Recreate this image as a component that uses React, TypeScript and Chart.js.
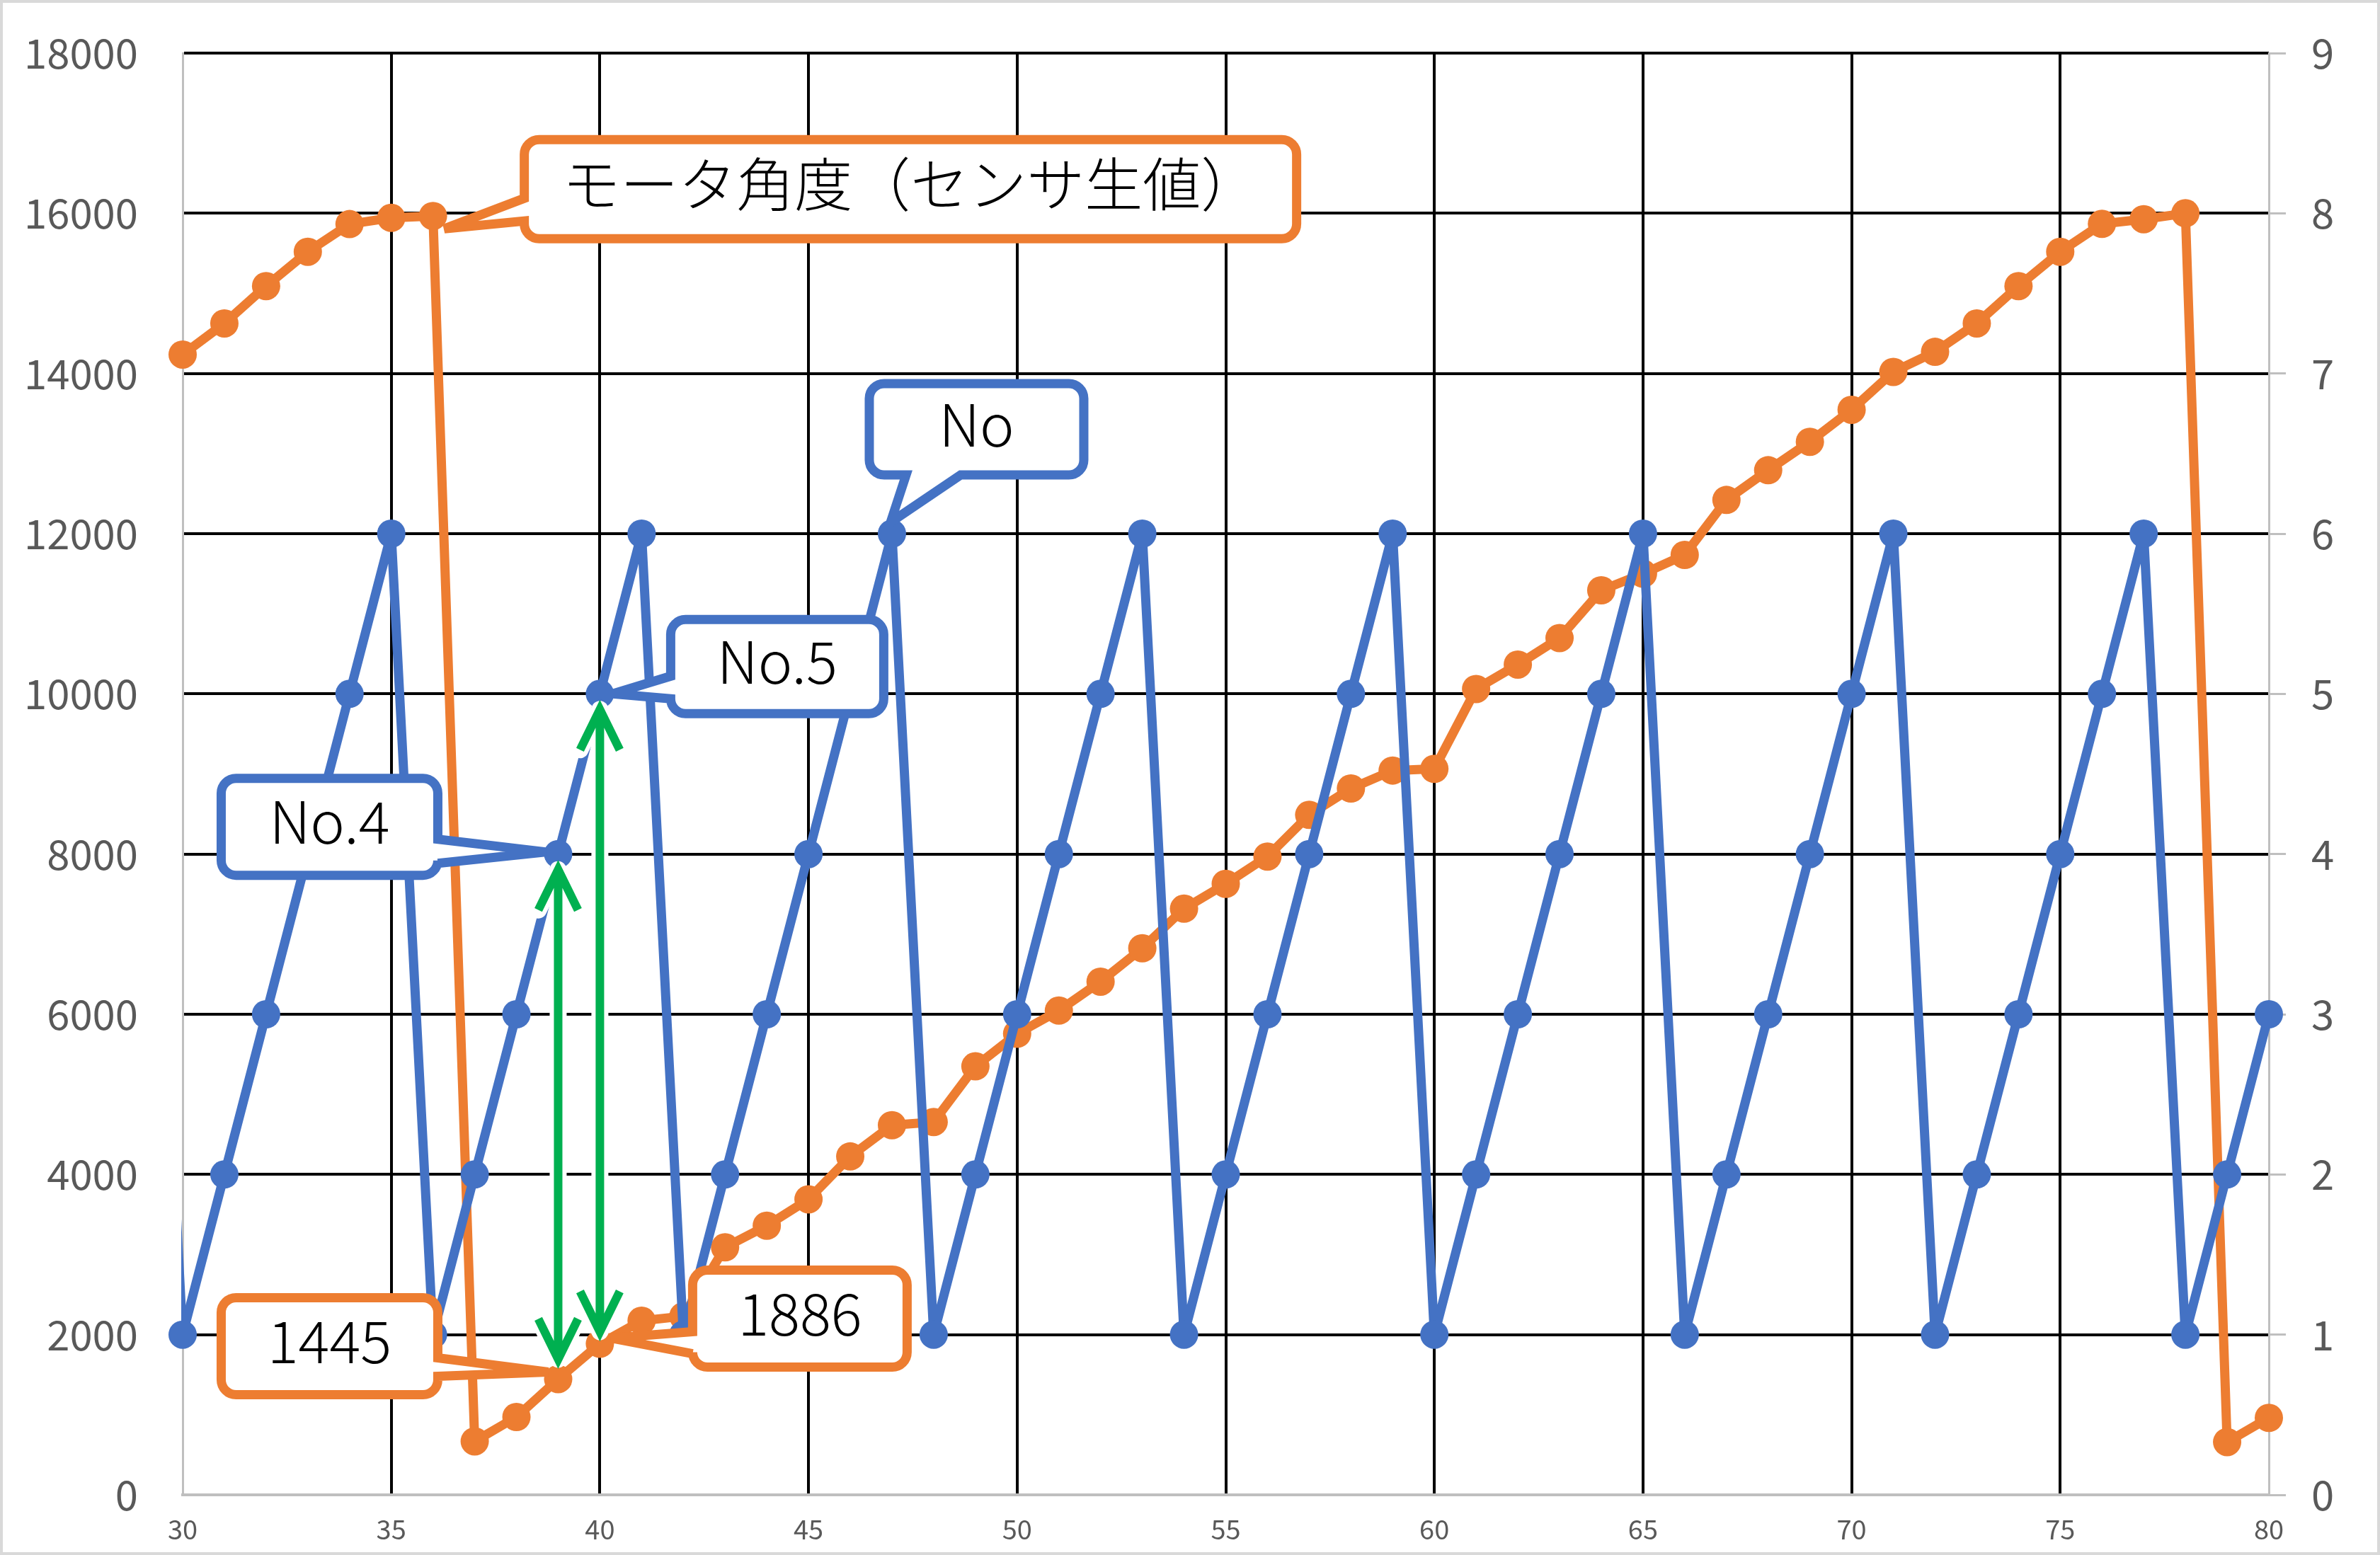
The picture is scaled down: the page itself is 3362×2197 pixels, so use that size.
import React, { useEffect, useRef } from "react";
import { Chart, registerables } from "chart.js";

Chart.register(...registerables);

const CANVAS_W = 3362;
const CANVAS_H = 2197;

const BLUE = "#4472C4";
const ORANGE = "#ED7D31";
const GREEN = "#00B050";
const AXIS_GRAY = "#BFBFBF";
const LABEL_GRAY = "#595959";
const FONT = "'Noto Sans CJK JP', 'Noto Sans', sans-serif";

// x positions (sample index)
const sampleNo = [
  30, 31, 32, 33, 34, 35, 36, 37, 38, 39, 40, 41, 42, 43, 44, 45, 46, 47, 48, 49,
  50, 51, 52, 53, 54, 55, 56, 57, 58, 59, 60, 61, 62, 63, 64, 65, 66, 67, 68, 69,
  70, 71, 72, 73, 74, 75, 76, 77, 78, 79, 80,
];

// モータ角度（センサ生値） – left axis
const motorAngle = [
  14236, 14625, 15091, 15520, 15865, 15943, 15966, 668, 972, 1445,
  1886, 2174, 2230, 3090, 3360, 3690, 4225, 4615, 4655, 5350,
  5756, 6046, 6407, 6824, 7318, 7628, 7969, 8489, 8819, 9043,
  9064, 10061, 10366, 10697, 11293, 11500, 11735, 12421, 12792, 13147,
  13547, 14020, 14270, 14625, 15091, 15520, 15868, 15926, 16000, 659,
  961,
];

// No – right axis
const noValues = [
  1, 2, 3, 4, 5, 6, 1, 2, 3, 4, 5, 6, 1, 2, 3, 4, 5, 6, 1, 2, 3, 4, 5, 6,
  1, 2, 3, 4, 5, 6, 1, 2, 3, 4, 5, 6, 1, 2, 3, 4, 5, 6, 1, 2, 3, 4, 5, 6,
  1, 2, 3,
];

// previous sample (outside the visible range) – only its segment edge shows
const noLeadInX = 29;
const noLeadInValue = 6;

// axis ranges / ticks
const xRange = [30, 80];
const xStep = 5;
const angleRange = [0, 18000];
const angleStep = 2000;
const noRange = [0, 9];
const noStep = 1;

// callouts: anchored to a data point; box & tip are pixel offsets from that point
type Callout = {
  text?: string;
  series: "angle" | "no";
  x: number;
  color: string;
  box: [number, number, number, number];
  side: "left" | "right" | "bottom";
  base: [number, number];
  tip: [number, number];
};
const callouts: Callout[] = [
  { text: "モータ角度（センサ生値）", series: "angle", x: 36, color: ORANGE, box: [129, -108, 1091, 140], side: "left", base: [83, 115], tip: [16, 18] },
  { text: "No", series: "no", x: 47, color: BLUE, box: [-32, -212, 303, 129], side: "bottom", base: [52, 129], tip: [-2, -16] },
  { text: "No.5", series: "no", x: 40, color: BLUE, box: [100, -105, 301, 133], side: "left", base: [80, 112], tip: [18, 0] },
  { text: "No.4", series: "no", x: 39, color: BLUE, box: [-476, -107, 306, 137], side: "right", base: [86, 120], tip: [-18, -3] },
  { series: "angle", x: 39, color: ORANGE, box: [-476, -115, 306, 137], side: "right", base: [85, 111], tip: [-14, -10] },
  { series: "angle", x: 40, color: ORANGE, box: [131, -104, 303, 137], side: "left", base: [87, 118], tip: [16, -8] },
];

// green double arrows between the No point and the angle point at the same x
const arrows = [
  { x: 39, gapTop: 22, gapBottom: 28 },
  { x: 40, gapTop: 22, gapBottom: 17 },
];

function calloutPath(
  ctx: CanvasRenderingContext2D,
  l: number, t: number, w: number, h: number, r: number,
  side: string, s0: number, s1: number, tx: number, ty: number
) {
  const rt = l + w;
  const bt = t + h;
  ctx.beginPath();
  ctx.moveTo(l + r, t);
  ctx.lineTo(rt - r, t);
  ctx.arcTo(rt, t, rt, t + r, r);
  if (side === "right") {
    ctx.lineTo(rt, t + s0);
    ctx.lineTo(tx, ty);
    ctx.lineTo(rt, t + s1);
  }
  ctx.lineTo(rt, bt - r);
  ctx.arcTo(rt, bt, rt - r, bt, r);
  if (side === "bottom") {
    ctx.lineTo(l + s1, bt);
    ctx.lineTo(tx, ty);
    ctx.lineTo(l + s0, bt);
  }
  ctx.lineTo(l + r, bt);
  ctx.arcTo(l, bt, l, bt - r, r);
  if (side === "left") {
    ctx.lineTo(l, t + s1);
    ctx.lineTo(tx, ty);
    ctx.lineTo(l, t + s0);
  }
  ctx.lineTo(l, t + r);
  ctx.arcTo(l, t, l + r, t, r);
  ctx.closePath();
}

const decorPlugin = {
  id: "decor",
  beforeDraw(chart: any) {
    const ctx = chart.ctx as CanvasRenderingContext2D;
    ctx.save();
    ctx.fillStyle = "#FFFFFF";
    ctx.fillRect(0, 0, chart.width, chart.height);
    ctx.restore();
  },
  afterDatasetsDraw(chart: any) {
    const ctx = chart.ctx as CanvasRenderingContext2D;
    const sx = chart.scales.x;
    const sa = chart.scales.yAngle;
    const sn = chart.scales.yNo;
    const idxOf = (x: number) => sampleNo.indexOf(x);

    // arrows
    ctx.save();
    for (const a of arrows) {
      const i = idxOf(a.x);
      const px = sx.getPixelForValue(a.x);
      const yTop = sn.getPixelForValue(noValues[i]) + a.gapTop;
      const yBot = sa.getPixelForValue(motorAngle[i]) - a.gapBottom;
      const hw = 28;
      const hl = 57;
      const drawShape = () => {
        ctx.beginPath();
        ctx.moveTo(px, yTop + 4);
        ctx.lineTo(px, yBot - 4);
        ctx.moveTo(px - hw, yTop + hl);
        ctx.lineTo(px, yTop);
        ctx.lineTo(px + hw, yTop + hl);
        ctx.moveTo(px - hw, yBot - hl);
        ctx.lineTo(px, yBot);
        ctx.lineTo(px + hw, yBot - hl);
        ctx.stroke();
      };
      ctx.lineCap = "round";
      ctx.lineJoin = "round";
      ctx.strokeStyle = "#FFFFFF";
      ctx.lineWidth = 24;
      drawShape();
      ctx.strokeStyle = GREEN;
      ctx.lineWidth = 12;
      ctx.lineCap = "butt";
      ctx.lineJoin = "miter";
      drawShape();
    }
    ctx.restore();

    // callouts
    ctx.save();
    for (const c of callouts) {
      const i = idxOf(c.x);
      const ax = sx.getPixelForValue(c.x);
      const ay = c.series === "angle" ? sa.getPixelForValue(motorAngle[i]) : sn.getPixelForValue(noValues[i]);
      const l = ax + c.box[0];
      const t = ay + c.box[1];
      const w = c.box[2];
      const h = c.box[3];
      calloutPath(ctx, l, t, w, h, 21, c.side, c.base[0], c.base[1], ax + c.tip[0], ay + c.tip[1]);
      ctx.fillStyle = "#FFFFFF";
      ctx.fill();
      ctx.lineWidth = 13;
      ctx.lineJoin = "miter";
      ctx.miterLimit = 3;
      ctx.strokeStyle = c.color;
      ctx.stroke();
      const text = c.text ?? String(motorAngle[i]);
      ctx.fillStyle = "#000000";
      ctx.font = `300 82px ${FONT}`;
      ctx.textAlign = "center";
      ctx.textBaseline = "middle";
      ctx.fillText(text, l + w / 2, t + h / 2 - 7);
    }
    ctx.restore();
  },
  afterDraw(chart: any) {
    const ctx = chart.ctx as CanvasRenderingContext2D;
    ctx.save();
    ctx.strokeStyle = "#D9D9D9";
    ctx.lineWidth = 4;
    ctx.strokeRect(2, 2, chart.width - 4, chart.height - 4);
    ctx.restore();
  },
};

export default function App() {
  const canvasRef = useRef<HTMLCanvasElement | null>(null);

  useEffect(() => {
    document.body.style.margin = "0";
    const canvas = canvasRef.current;
    if (!canvas) return;

    const anglePoints = sampleNo.map((x, i) => ({ x, y: motorAngle[i] }));
    const noPoints = sampleNo.map((x, i) => ({ x, y: noValues[i] }));
    const noLeadPoints = [
      { x: noLeadInX, y: noLeadInValue },
      { x: sampleNo[0], y: noValues[0] },
    ];

    const chart = new Chart(canvas, {
      type: "line",
      data: {
        datasets: [
          {
            label: "No",
            data: noPoints,
            yAxisID: "yNo",
            borderColor: BLUE,
            backgroundColor: BLUE,
            pointBackgroundColor: BLUE,
            pointBorderWidth: 0,
            pointRadius: 20,
            borderWidth: 13,
            order: 0,
            clip: 30,
          },
          {
            label: "No lead-in",
            data: noLeadPoints,
            yAxisID: "yNo",
            borderColor: BLUE,
            pointRadius: 0,
            borderWidth: 13,
            order: 1,
            clip: { left: 2, top: 30, right: 30, bottom: 30 },
          },
          {
            label: "モータ角度（センサ生値）",
            data: anglePoints,
            yAxisID: "yAngle",
            borderColor: ORANGE,
            backgroundColor: ORANGE,
            pointBackgroundColor: ORANGE,
            pointBorderWidth: 0,
            pointRadius: 20,
            borderWidth: 13,
            order: 2,
            clip: 30,
          },
        ],
      },
      options: {
        animation: false,
        responsive: false,
        devicePixelRatio: 1,
        layout: { padding: { top: 75, left: 0, right: 0, bottom: 0 }, autoPadding: false },
        elements: { line: { tension: 0, borderJoinStyle: "round", borderCapStyle: "round" } },
        plugins: {
          legend: { display: false },
          tooltip: { enabled: false },
        },
        scales: {
          x: {
            type: "linear",
            position: "bottom",
            min: xRange[0],
            max: xRange[1],
            afterFit: (s: any) => {
              s.height = 85;
            },
            ticks: {
              stepSize: xStep,
              color: LABEL_GRAY,
              font: { family: FONT, size: 38 },
              padding: 26,
              maxRotation: 0,
              autoSkip: false,
              callback: (v: any) => String(v),
            },
            grid: {
              color: (c: any) =>
                c.tick && (c.tick.value === xRange[0] || c.tick.value === xRange[1]) ? "rgba(0,0,0,0)" : "#000000",
              lineWidth: 4,
              drawTicks: false,
            },
            border: { display: true, color: AXIS_GRAY, width: 4 },
          },
          yAngle: {
            type: "linear",
            position: "left",
            min: angleRange[0],
            max: angleRange[1],
            afterFit: (s: any) => {
              s.width = 258;
            },
            ticks: {
              stepSize: angleStep,
              color: LABEL_GRAY,
              font: { family: FONT, size: 58 },
              padding: 0,
              callback: (v: any) => String(v),
            },
            grid: {
              color: (c: any) => (c.tick && c.tick.value === angleRange[0] ? "rgba(0,0,0,0)" : "#000000"),
              lineWidth: 4,
              drawTicks: true,
              tickLength: 63,
              tickColor: "rgba(0,0,0,0)",
            },
            border: { display: true, color: AXIS_GRAY, width: 3 },
          },
          yNo: {
            type: "linear",
            position: "right",
            min: noRange[0],
            max: noRange[1],
            afterFit: (s: any) => {
              s.width = 157;
            },
            ticks: {
              stepSize: noStep,
              color: LABEL_GRAY,
              font: { family: FONT, size: 58 },
              padding: 36,
              callback: (v: any) => String(v),
            },
            grid: {
              drawOnChartArea: false,
              drawTicks: true,
              tickLength: 24,
              tickColor: AXIS_GRAY,
              tickWidth: 3,
              color: AXIS_GRAY,
              lineWidth: 3,
            },
            border: { display: true, color: AXIS_GRAY, width: 3 },
          },
        },
      },
      plugins: [decorPlugin],
    } as any);

    return () => {
      chart.destroy();
    };
  }, []);

  return (
    <div style={{ width: CANVAS_W, height: CANVAS_H, overflow: "hidden" }}>
      <canvas
        ref={canvasRef}
        width={CANVAS_W}
        height={CANVAS_H}
        style={{ display: "block", width: CANVAS_W, height: CANVAS_H }}
      />
    </div>
  );
}
